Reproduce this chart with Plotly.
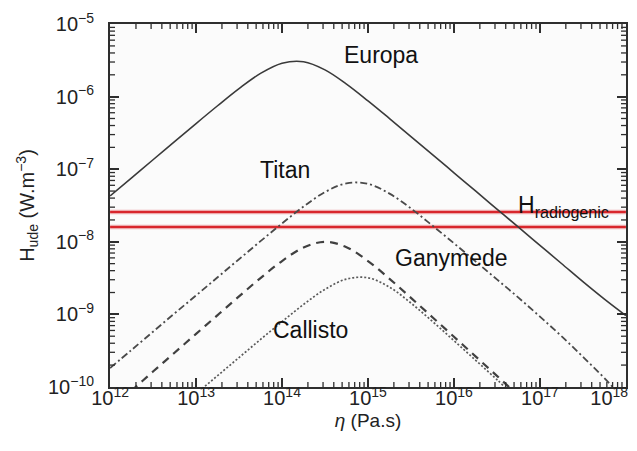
import plotly.graph_objects as go

# viscosity grid (Pa.s)
eta = [1e12, 1.78e12, 3.16e12, 5.62e12, 1e13, 1.78e13, 3.16e13, 5.62e13,
       1e14, 1.78e14, 3.16e14, 5.62e14, 1e15, 1.78e15, 3.16e15, 5.62e15,
       1e16, 1.78e16, 3.16e16, 5.62e16, 1e17, 1.78e17, 3.16e17, 5.62e17, 1e18]

europa = [4.28e-8, 7.60e-8, 1.35e-7, 2.40e-7, 4.26e-7, 7.49e-7, 1.29e-6, 2.09e-6,
          2.89e-6, 3.03e-6, 2.34e-6, 1.49e-6, 8.75e-7, 4.99e-7, 2.82e-7, 1.59e-7,
          8.93e-8, 5.02e-8, 2.82e-8, 1.59e-8, 8.93e-9, 5.02e-9, 2.82e-9, 1.62e-9, 9.6e-10]

titan = [1.82e-10, 3.24e-10, 5.77e-10, 1.03e-9, 1.82e-9, 3.24e-9, 5.75e-9, 1.02e-8,
         1.79e-8, 3.06e-8, 4.84e-8, 6.40e-8, 6.28e-8, 4.61e-8, 2.88e-8, 1.67e-8,
         9.53e-9, 5.37e-9, 3.03e-9, 1.70e-9, 9.3e-10, 5.0e-10, 2.6e-10, 1.32e-10, 6.3e-11]

ganymede_eta = eta[:21]
ganymede = [4.9e-11, 8.9e-11, 1.63e-10, 2.96e-10, 5.38e-10, 9.77e-10, 1.77e-9, 3.16e-9,
            5.43e-9, 8.34e-9, 1.00e-8, 8.43e-9, 5.43e-9, 3.09e-9, 1.69e-9, 9.12e-10,
            4.91e-10, 2.64e-10, 1.42e-10, 7.6e-11, 4.1e-11]

callisto_eta = eta[3:20]
callisto = [4.5e-11, 8.05e-11, 1.43e-10, 2.54e-10, 4.51e-10, 7.93e-10, 1.37e-9, 2.21e-9,
            3.06e-9, 3.19e-9, 2.37e-9, 1.43e-9, 7.99e-10, 4.34e-10, 2.34e-10, 1.26e-10, 6.7e-11]

h_radiogenic = [2.57e-8, 1.60e-8]
x_span = [1e12, 1e18]

labels = ["Europa", "Titan", "Ganymede", "Callisto"]
label_x = [15.15, 14.04, 15.97, 14.33]
label_y = [-5.42, -7.01, -8.23, -9.22]

NB = "\u00a0"
x_major = [1e12, 1e13, 1e14, 1e15, 1e16, 1e17, 1e18]
x_text = ["10<sup>12</sup>", "10<sup>13</sup>", "10<sup>14</sup>", "10<sup>15</sup>",
          "10<sup>16</sup>", "10<sup>17</sup>", "10<sup>18</sup>" + NB * 6]
y_major = [1e-10, 1e-9, 1e-8, 1e-7, 1e-6, 1e-5]
y_text = ["10<sup>−10</sup>", "10<sup>−9</sup>", "10<sup>−8</sup>", "10<sup>−7</sup>",
          "10<sup>−6</sup>", "10<sup>−5</sup>"]
x_minor = [m * v for v in x_major[:-1] for m in range(2, 10)]
y_minor = [m * v for v in y_major[:-1] for m in range(2, 10)]

curve_col = "#3a3a3a"
red = "#d8262c"
FONT = "Liberation Sans, Arial, sans-serif"
AX = "#2e2e2e"

fig = go.Figure()

for h in h_radiogenic:
    fig.add_trace(go.Scatter(x=x_span, y=[h, h], mode="lines",
                             line=dict(color="rgba(216,38,44,0.18)", width=5),
                             hoverinfo="skip", showlegend=False))
    fig.add_trace(go.Scatter(x=x_span, y=[h, h], mode="lines",
                             line=dict(color=red, width=2.6), showlegend=False))

fig.add_trace(go.Scatter(x=eta, y=europa, mode="lines", line_shape="spline",
                         line=dict(color=curve_col, width=1.6), showlegend=False))
fig.add_trace(go.Scatter(x=eta, y=titan, mode="lines", line_shape="spline",
                         line=dict(color="#4a4a4a", width=1.8, dash="7px,3px,2px,3px"), showlegend=False))
fig.add_trace(go.Scatter(x=ganymede_eta, y=ganymede, mode="lines", line_shape="spline",
                         line=dict(color="#404040", width=2.2, dash="8px,6px"), showlegend=False))
fig.add_trace(go.Scatter(x=callisto_eta, y=callisto, mode="lines", line_shape="spline",
                         line=dict(color="#5a5a5a", width=1.7, dash="2px,2px"), showlegend=False))

for t, lx, ly in zip(labels, label_x, label_y):
    fig.add_annotation(x=lx, y=ly, text=t, showarrow=False,
                       font=dict(family=FONT, size=23, color="#111"))

fig.add_annotation(x=16.72, y=-7.52, xanchor="left", yanchor="middle",
                   text="H<sub>radiogenic</sub>", showarrow=False,
                   font=dict(family=FONT, size=23, color="#111"))

# minor tick marks (2..9 within each decade) on all four sides
MINOR_LEN_Y = 5 / 363
MINOR_LEN_X = 5 / 516
tick_line = dict(color=AX, width=1.3)
for v in x_minor:
    fig.add_shape(type="line", xref="x", yref="y domain", x0=v, x1=v, y0=0, y1=MINOR_LEN_Y,
                  line=tick_line, layer="above")
    fig.add_shape(type="line", xref="x", yref="y domain", x0=v, x1=v, y0=1, y1=1 - MINOR_LEN_Y,
                  line=tick_line, layer="above")
for v in y_minor:
    fig.add_shape(type="line", xref="x domain", yref="y", x0=0, x1=MINOR_LEN_X, y0=v, y1=v,
                  line=tick_line, layer="above")
    fig.add_shape(type="line", xref="x domain", yref="y", x0=1, x1=1 - MINOR_LEN_X, y0=v, y1=v,
                  line=tick_line, layer="above")

axis_common = dict(
    type="log", showgrid=False, zeroline=False,
    showline=True, linecolor=AX, linewidth=2, mirror="allticks",
    ticks="inside", ticklen=9, tickwidth=1.6, tickcolor=AX,
    tickfont=dict(family=FONT, size=20, color="#222"), tickmode="array",
)

XR = [11.999, 18.001]
YR = [-10.001, -4.999]

fig.update_layout(
    xaxis=dict(range=XR, tickvals=x_major, ticktext=x_text,
               title=dict(text="<i>η</i> (Pa.s)", font=dict(family=FONT, size=19, color="#222"),
                          standoff=6),
               ticklabelstandoff=-8, ticklabeloverflow="allow", **axis_common),
    yaxis=dict(range=YR, tickvals=y_major, ticktext=y_text,
               title=dict(text="H<sub>ude</sub> (W.m<sup>−3</sup>)",
                          font=dict(family=FONT, size=20, color="#222"), standoff=8),
               ticklabelstandoff=10, **axis_common),
    width=637, height=451,
    margin=dict(l=102, r=19, t=16, b=72, autoexpand=False),
    paper_bgcolor="white", plot_bgcolor="#fbfbfb",
    showlegend=False,
)

fig.write_html("out.html")
